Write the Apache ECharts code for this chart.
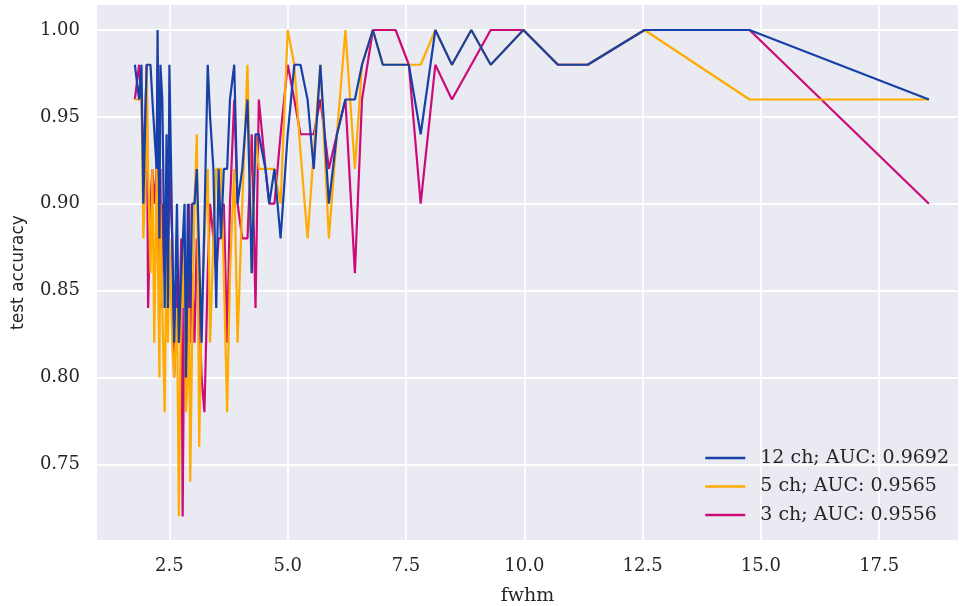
<!DOCTYPE html>
<html>
<head>
<meta charset="utf-8">
<script src="https://cdn.jsdelivr.net/npm/echarts@6/dist/echarts.min.js"></script>
<style>
  html, body { margin: 0; padding: 0; background: #ffffff; }
  #chart { width: 960px; height: 606px; }
</style>
</head>
<body>
<div id="chart"></div>
<script>
// fwhm values shared by all three runs
const fwhm = [
  1.77, 1.86, 1.91, 1.95, 2.00, 2.02, 2.05, 2.10, 2.14, 2.18,
  2.23, 2.25, 2.27, 2.29, 2.31, 2.33, 2.35, 2.37, 2.40, 2.44,
  2.47, 2.50, 2.56, 2.60, 2.66, 2.70, 2.75, 2.78, 2.82, 2.85,
  2.89, 2.92, 2.94, 2.98, 3.03, 3.08, 3.13, 3.18, 3.24, 3.31,
  3.36, 3.43, 3.49, 3.54, 3.59, 3.65, 3.72, 3.78, 3.87, 3.94,
  4.04, 4.15, 4.24, 4.32, 4.39, 4.53, 4.61, 4.72, 4.85, 5.00,
  5.14, 5.27, 5.42, 5.55, 5.69, 5.87, 6.04, 6.22, 6.42, 6.57,
  6.80, 7.01, 7.28, 7.56, 7.81, 8.12, 8.47, 8.88, 9.29, 9.98,
  10.71, 11.34, 12.54, 14.76, 18.55
];

const acc12 = [
  0.98, 0.96, 0.98, 0.90, 0.96, 0.98, 0.98, 0.98, 0.96, 0.96,
  0.92, 1.00, 1.00, 0.88, 0.98, 0.98, 0.96, 0.92, 0.84, 0.94,
  0.84, 0.98, 0.88, 0.82, 0.90, 0.82, 0.86, 0.86, 0.90, 0.80,
  0.90, 0.90, 0.84, 0.90, 0.90, 0.92, 0.87, 0.82, 0.89, 0.98,
  0.95, 0.92, 0.84, 0.92, 0.88, 0.92, 0.92, 0.96, 0.98, 0.90,
  0.92, 0.96, 0.86, 0.94, 0.94, 0.92, 0.90, 0.92, 0.88, 0.94,
  0.98, 0.98, 0.96, 0.92, 0.98, 0.90, 0.94, 0.96, 0.96, 0.98,
  1.00, 0.98, 0.98, 0.98, 0.94, 1.00, 0.98, 1.00, 0.98, 1.00,
  0.98, 0.98, 1.00, 1.00, 0.96
];

const acc5 = [
  0.96, 0.96, 0.96, 0.88, 0.92, 0.98, 0.92, 0.86, 0.92, 0.82,
  0.92, 0.88, 0.88, 0.80, 0.90, 0.90, 0.84, 0.84, 0.78, 0.88,
  0.82, 0.88, 0.82, 0.80, 0.84, 0.72, 0.86, 0.84, 0.88, 0.78,
  0.80, 0.84, 0.74, 0.82, 0.90, 0.94, 0.76, 0.84, 0.88, 0.92,
  0.82, 0.88, 0.92, 0.92, 0.92, 0.86, 0.78, 0.86, 0.92, 0.82,
  0.90, 0.98, 0.86, 0.94, 0.92, 0.92, 0.92, 0.92, 0.90, 1.00,
  0.98, 0.93, 0.88, 0.93, 0.98, 0.88, 0.94, 1.00, 0.92, 0.98,
  1.00, 0.98, 0.98, 0.98, 0.98, 1.00, 0.98, 1.00, 0.98, 1.00,
  0.98, 0.98, 1.00, 0.96, 0.96
];

const acc3 = [
  0.96, 0.98, 0.96, 0.92, 0.96, 0.98, 0.84, 0.90, 0.92, 0.90,
  0.92, 0.98, 0.92, 0.86, 0.92, 0.84, 0.90, 0.88, 0.86, 0.90,
  0.86, 0.92, 0.88, 0.80, 0.86, 0.82, 0.88, 0.72, 0.86, 0.80,
  0.84, 0.90, 0.82, 0.86, 0.82, 0.88, 0.84, 0.80, 0.78, 0.86,
  0.90, 0.88, 0.86, 0.88, 0.88, 0.90, 0.82, 0.90, 0.96, 0.90,
  0.88, 0.88, 0.94, 0.84, 0.96, 0.92, 0.90, 0.90, 0.94, 0.98,
  0.96, 0.94, 0.94, 0.94, 0.96, 0.92, 0.94, 0.96, 0.86, 0.96,
  1.00, 1.00, 1.00, 0.98, 0.90, 0.98, 0.96, 0.98, 1.00, 1.00,
  0.98, 0.98, 1.00, 1.00, 0.90
];

const seriesNames = ['12 ch; AUC: 0.9692', '5 ch; AUC: 0.9565', '3 ch; AUC: 0.9556'];
const xTicks = [2.5, 5.0, 7.5, 10.0, 12.5, 15.0, 17.5];
const yTicks = [0.75, 0.80, 0.85, 0.90, 0.95, 1.00];

const serif = 'DejaVu Serif';
const textColor = '#262626';

function pairs(ys) {
  return fwhm.map((x, i) => [x, ys[i]]);
}

function lineSeries(name, ys, color) {
  return {
    name: name,
    type: 'line',
    data: pairs(ys),
    symbol: 'none',
    lineStyle: { color: color, width: 2.2 },
    itemStyle: { color: color },
    animation: false
  };
}

const chart = echarts.init(document.getElementById('chart'));
chart.setOption({
  backgroundColor: '#ffffff',
  grid: {
    left: 97, right: 2, top: 5, bottom: 66,
    outerBoundsMode: 'none',
    containLabel: false,
    show: true, backgroundColor: '#eaeaf2', borderWidth: 0
  },
  legend: {
    data: seriesNames,
    orient: 'vertical',
    right: 11,
    top: 448,
    padding: 0,
    itemGap: 8.5,
    itemWidth: 40,
    itemHeight: 2.5,
    icon: 'rect',
    textStyle: { fontFamily: serif, fontSize: 19, color: textColor, padding: [0, 0, 0, 10], lineHeight: 20 }
  },
  xAxis: {
    type: 'value',
    min: 0.97,
    max: 19.165,
    name: 'fwhm',
    nameLocation: 'middle',
    nameGap: 47,
    nameTextStyle: { fontFamily: serif, fontSize: 19, color: textColor },
    axisLine: { show: false },
    axisTick: { show: false, customValues: xTicks },
    axisLabel: {
      customValues: xTicks,
      margin: 17,
      fontFamily: serif, fontSize: 18, color: textColor,
      formatter: v => v.toFixed(1)
    },
    splitLine: { show: true, lineStyle: { color: '#ffffff', width: 1.8 } }
  },
  yAxis: {
    type: 'value',
    min: 0.7064,
    max: 1.0144,
    name: 'test accuracy',
    nameLocation: 'middle',
    nameGap: 70,
    nameTextStyle: { fontFamily: 'DejaVu Sans', fontSize: 17, color: textColor },
    axisLine: { show: false },
    axisTick: { show: false, customValues: yTicks },
    axisLabel: {
      customValues: yTicks,
      margin: 17,
      fontFamily: serif, fontSize: 18, color: textColor,
      formatter: v => v.toFixed(2)
    },
    splitLine: { show: true, lineStyle: { color: '#ffffff', width: 1.8 } }
  },
  // drawn 3 ch first so that 12 ch ends up on top, as in the figure
  series: [
    lineSeries(seriesNames[2], acc3, '#cc0a78'),
    lineSeries(seriesNames[1], acc5, '#ffab00'),
    lineSeries(seriesNames[0], acc12, '#1740a8')
  ]
});
</script>
</body>
</html>
